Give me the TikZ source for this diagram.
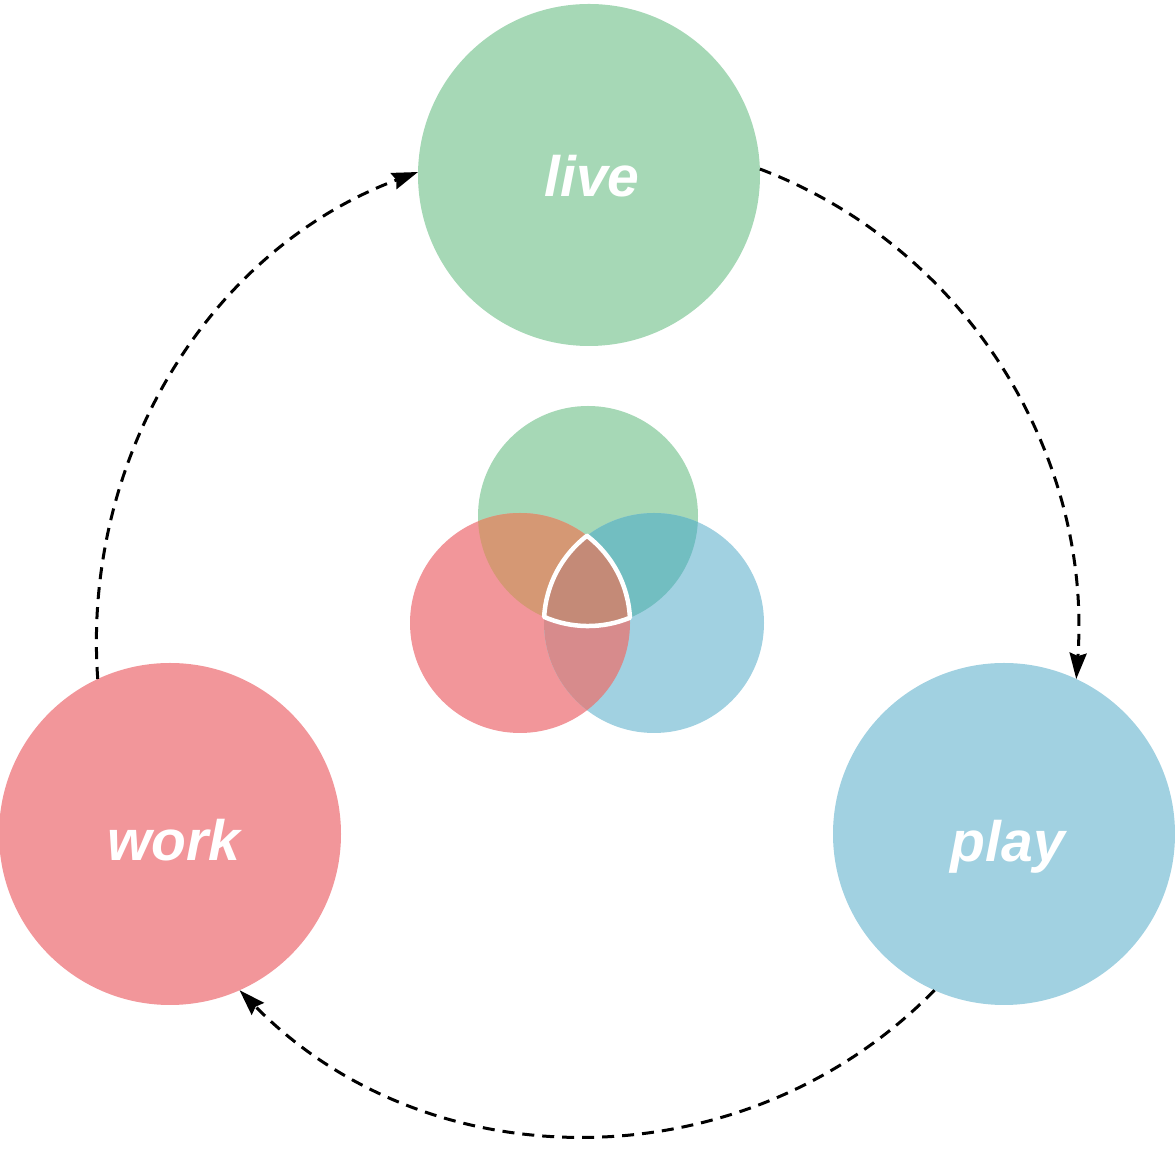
\documentclass[tikz,border=0pt]{standalone}
\usepackage{fontspec}
\setmainfont{Liberation Sans}
\usetikzlibrary{arrows.meta}
\definecolor{cgreen}{HTML}{A6D8B6}
\definecolor{cred}{HTML}{F2969A}
\definecolor{cblue}{HTML}{A1D1E1}
\definecolor{cgr}{HTML}{D59874}
\definecolor{cgb}{HTML}{72BEC1}
\definecolor{crb}{HTML}{D78B8C}
\definecolor{crgb}{HTML}{C48A77}
\tikzset{
  bigc/.style={circle, minimum size=342pt, inner sep=0pt, outer sep=0pt, draw=none},
  smallc/.style={circle, minimum size=220pt, inner sep=0pt, outer sep=0pt, draw=none},
  word/.style={anchor=base, text=white, inner sep=0pt, font=\fontsize{57}{60}\selectfont\bfseries\itshape},
  conn/.style={draw=black, line width=3pt, dash pattern=on 12pt off 8pt, -{Stealth[length=26pt,width=17pt,inset=3pt]}},
}
\begin{document}
\begin{tikzpicture}[x=1pt,y=1pt]
\useasboundingbox (0,0) rectangle (1175,1153);
% big circles
\node[bigc, fill=cgreen] (live) at (589,978) {};
\node[bigc, fill=cred] (work) at (170,319) {};
\node[bigc, fill=cblue] (play) at (1004,319) {};
\node[word] (livet) at (592,956) {live};
\node[word] (workt) at (174,292) {work};
\node[word] (playt) at (1008,291) {play};
% venn
\node[smallc, fill=cgreen] (vg) at (588,637) {};
\node[smallc, fill=cred] (vr) at (520,530) {};
\node[smallc, fill=cblue] (vb) at (654,530) {};
\begin{scope}
  \clip (vg.center) circle (110pt);
  \fill[cgr] (vr.center) circle (110pt);
\end{scope}
\begin{scope}
  \clip (vg.center) circle (110pt);
  \fill[cgb] (vb.center) circle (110pt);
\end{scope}
\begin{scope}
  \clip (vr.center) circle (110pt);
  \fill[crb] (vb.center) circle (110pt);
\end{scope}
\path[fill=crgb, draw=white, line width=4.5pt, line join=round]
  (587,617.2) arc[start angle=127.5, end angle=176.8, radius=110pt]
  arc[start angle=246.5, end angle=292.4, radius=110pt]
  arc[start angle=2.8, end angle=52.5, radius=110pt] -- cycle;
% connectors
\draw[conn] (live.2) to[out=-20.7, in=85.9, looseness=0.95] (play.65);
\draw[conn] (play.246.5) to[out=-134.4, in=-45.6] (work.294);
\draw[conn] (work.115) to[out=94.1, in=200.4, looseness=0.95] (live.179);
\end{tikzpicture}
\end{document}
